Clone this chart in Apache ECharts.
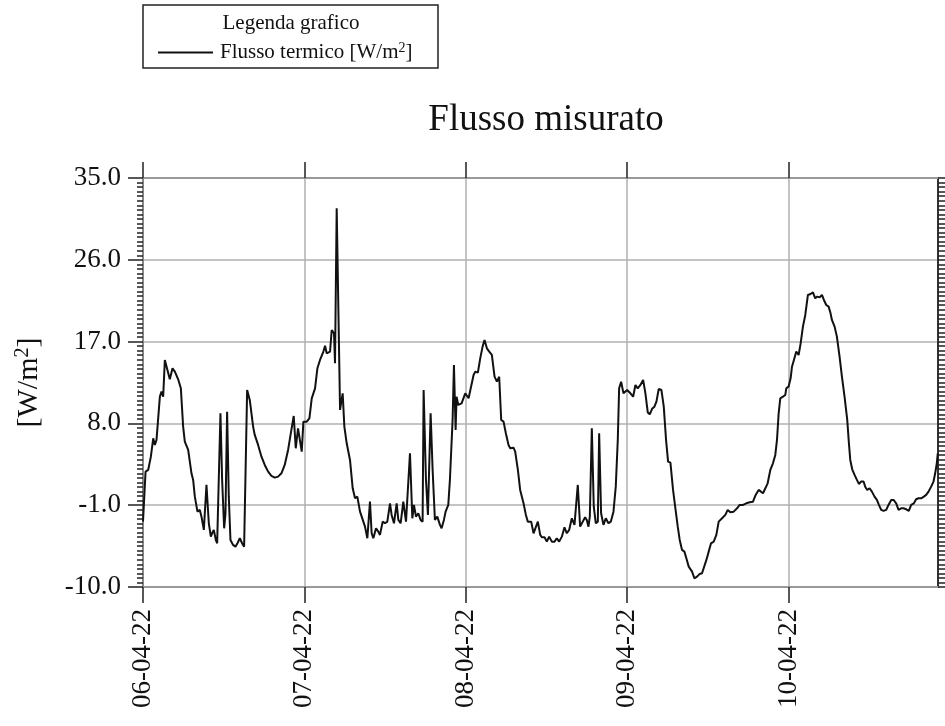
<!DOCTYPE html>
<html><head><meta charset="utf-8">
<script src="https://cdn.jsdelivr.net/npm/echarts@6/dist/echarts.min.js"></script>
<style>html,body{margin:0;padding:0;background:#fff}#c{width:945px;height:726px}</style>
</head><body><div id="c"></div>
<script>
const dayLabels = ['06-04-22','07-04-22','08-04-22','09-04-22','10-04-22'];
const dayTicks = [0,24,48,72,96];
const yTicks = [-10,-1,8,17,26,35];
const hours = [
0,0.38,0.77,1.17,1.52,1.76,2.01,2.51,2.75,3.00,3.25,3.50,3.99,4.39,4.74,5.23,5.63,5.97,6.22,6.72,7.21,7.46,7.71,8.10,8.45,8.70,9.05,9.44,9.79,10.09,10.28,10.53,10.83,11.03,11.52,11.77,12.07,12.27,12.51,12.76,13.01,13.40,13.75,14.05,14.40,14.74,15.04,15.49,15.88,16.38,16.62,17.12,17.62,18.11,18.61,19.10,19.60,20.09,20.59,21.08,21.58,22.07,22.42,22.72,23.06,
23.61,23.86,24.35,24.75,25.10,25.59,25.94,26.33,26.83,27.08,27.32,27.82,28.07,28.41,28.56,28.81,29.31,29.70,29.95,30.30,30.79,31.19,31.54,31.88,32.28,32.53,32.77,33.02,33.37,33.76,34.01,34.26,34.66,35.00,35.25,35.65,35.99,36.34,36.74,36.98,37.33,37.73,37.98,38.32,38.72,39.12,39.31,39.71,40.06,40.30,40.60,40.95,41.29,41.59,41.74,42.09,42.38,42.78,43.08,43.42,43.77,44.17,44.41,44.76,45.01,45.41,45.65,46.05,46.25,46.50,46.64,46.89,47.39,
47.93,48.43,48.67,49.17,49.42,49.81,50.16,50.51,50.80,51.15,51.50,51.89,52.29,52.64,52.98,53.28,53.63,53.97,54.37,54.62,55.11,55.36,55.76,56.10,56.60,56.95,57.24,57.74,58.09,58.33,58.73,59.08,59.33,59.72,60.07,60.41,60.81,61.21,61.55,61.90,62.30,62.69,63.04,63.39,63.78,64.18,64.38,64.67,65.02,65.27,65.76,66.01,66.26,66.46,66.76,67.05,67.35,67.65,67.85,68.14,68.49,68.84,69.23,69.58,69.98,70.32,70.62,70.82,71.12,71.46,
72.01,72.50,72.90,73.25,73.59,73.99,74.39,74.73,75.08,75.38,75.72,76.07,76.37,76.71,77.11,77.46,77.80,78.10,78.45,78.84,79.19,79.54,79.83,80.18,80.53,80.82,81.17,81.42,81.67,82.01,82.41,82.81,83.15,83.40,83.80,84.14,84.49,84.89,85.28,85.63,86.13,86.62,86.97,87.36,87.86,88.36,88.75,89.25,89.74,90.24,90.73,91.13,91.57,91.92,92.22,92.57,92.91,93.31,93.70,94.05,94.30,94.55,94.79,95.19,95.54,
95.68,96.03,96.33,96.53,96.82,97.17,97.52,97.82,98.16,98.51,98.90,99.30,99.65,99.99,100.29,100.64,100.99,101.28,101.63,101.98,102.27,102.47,102.87,103.21,103.61,103.96,104.35,104.75,105.00,105.20,105.49,105.84,106.19,106.48,106.83,107.18,107.42,107.72,108.07,108.42,108.81,109.16,109.46,109.80,110.15,110.55,110.89,111.29,111.64,112.03,112.38,112.77,113.12,113.52,113.91,114.26,114.66,115.00,115.35,115.75,116.14,116.49,116.84,117.23,117.58,117.83,118.07,118.22
];
const flux = [
-2.81,2.69,2.88,4.34,6.36,5.63,6.18,10.94,11.49,10.94,14.98,14.80,12.85,14.06,13.70,12.85,11.86,7.65,6.00,5.08,2.51,1.78,-0.06,-1.71,-1.52,-2.26,-3.72,1.23,-2.99,-4.46,-4.09,-3.72,-4.82,-5.19,9.11,1.78,-3.54,-1.89,9.29,-0.06,-4.82,-5.37,-5.56,-5.19,-4.64,-5.19,-5.56,11.68,10.58,7.65,6.73,5.63,4.34,3.43,2.69,2.22,2.03,2.14,2.51,3.43,5.08,7.28,8.82,5.26,7.46,
4.89,8.19,8.19,8.56,10.76,11.86,14.06,14.98,15.90,16.55,15.71,15.90,18.28,17.91,14.61,31.66,9.48,11.31,7.65,5.81,3.98,0.86,-0.24,-0.06,-1.71,-2.26,-2.07,-3.36,-4.64,-0.61,-4.09,-4.64,-3.54,-3.91,-4.27,-2.81,-2.99,-2.81,-0.79,-2.07,-2.99,-0.79,-2.62,-2.99,-0.61,-2.81,-2.99,4.71,-2.44,-0.97,-2.26,-1.89,-2.62,-2.81,11.68,1.78,-2.07,9.11,2.88,-2.62,-2.26,-3.17,-3.54,-2.62,-1.71,-0.97,1.78,8.38,14.43,7.28,10.94,10.03,10.21,
11.31,10.76,10.58,13.33,13.70,13.59,15.16,16.45,17.18,16.26,15.90,15.53,13.14,12.59,13.14,8.38,8.19,6.91,5.63,5.26,5.33,4.89,2.88,0.68,-0.79,-2.07,-2.81,-2.81,-4.09,-4.27,-2.81,-4.27,-4.53,-4.53,-5.01,-4.46,-5.01,-5.01,-4.64,-5.01,-4.46,-3.43,-4.09,-3.72,-2.44,-3.17,-2.99,1.23,-3.36,-3.54,-2.33,-2.62,-3.36,-2.26,7.46,-1.16,-2.99,-2.81,6.91,-1.89,-3.17,-2.44,-2.99,-2.81,-1.71,1.04,6.18,11.86,12.59,11.31,
11.68,11.31,10.94,12.23,11.86,12.23,12.78,11.31,9.20,9.00,9.60,9.84,10.39,11.79,11.68,9.84,6.18,3.79,3.68,0.68,-1.34,-3.36,-4.82,-5.92,-6.11,-6.84,-7.76,-7.94,-8.31,-9.04,-8.86,-8.56,-8.49,-8.42,-7.02,-6.11,-5.19,-5.01,-4.27,-2.81,-2.44,-2.07,-1.52,-1.78,-1.71,-1.34,-0.97,-0.97,-0.79,-0.68,-0.61,0.13,0.68,0.49,0.31,0.86,1.41,2.88,3.61,4.53,6.18,9.11,10.76,10.94,11.13,
11.86,12.05,12.96,14.24,14.98,15.90,15.53,16.81,18.65,19.93,22.13,22.24,22.42,21.76,21.95,21.87,22.13,21.58,21.03,20.85,20.11,19.38,18.65,17.55,15.35,13.14,10.94,8.38,5.81,3.98,2.95,2.33,1.78,1.34,1.60,1.60,1.04,0.68,0.86,0.49,-0.06,-0.42,-0.97,-1.52,-1.63,-1.52,-0.97,-0.42,-0.42,-0.79,-1.52,-1.34,-1.34,-1.45,-1.63,-0.97,-0.79,-0.35,-0.24,-0.24,-0.06,0.13,0.49,1.04,1.60,2.51,3.61,4.71
];
const FONT = '"Liberation Serif", "Times New Roman", serif';
const chart = echarts.init(document.getElementById('c'));
const data = hours.map((h, i) => [h, flux[i]]);
const tickStyle = {color: '#222', width: 1.5};
const option = {
  animation: false,
  backgroundColor: '#fff',
  title: {
    text: 'Flusso misurato', left: 541, top: 97, textAlign: 'center',
    textStyle: {fontFamily: FONT, fontSize: 37, fontWeight: 'normal', color: '#111'}
  },
  legend: {
    data: [{name: 'Flusso termico', icon: 'rect'}], left: 153, top: 36, itemWidth: 55, itemHeight: 2, itemGap: 0,
    formatter: () => '{a|Flusso termico [W/m}{s|2}{a|]}',
    textStyle: {
      padding: [0, 0, 0, 2],
      rich: {
        a: {fontFamily: FONT, fontSize: 21, color: '#111'},
        s: {fontFamily: FONT, fontSize: 14, color: '#111', verticalAlign: 'top', padding: [0, 0, 9, 0]}
      }
    }
  },
  grid: {left: 143, right: 7, top: 178, bottom: 139, containLabel: false},
  xAxis: [
    {
      type: 'value', position: 'bottom', min: 0, max: 118.25, interval: 24,
      axisLine: {onZero: false, lineStyle: {color: '#999', width: 2}},
      axisTick: {customValues: dayTicks, length: 16, lineStyle: tickStyle},
      axisLabel: {
        customValues: dayTicks, rotate: 90, margin: 22,
        formatter: v => dayLabels[dayTicks.indexOf(v)] || '',
        fontFamily: FONT, fontSize: 27, color: '#111'
      },
      splitLine: {show: true, lineStyle: {color: '#b0b0b0', width: 1.5}}
    },
    {
      type: 'value', position: 'top', min: 0, max: 118.25, interval: 24,
      axisLine: {onZero: false, lineStyle: {color: '#999', width: 2}},
      axisTick: {customValues: dayTicks, length: 16, lineStyle: tickStyle},
      axisLabel: {show: false}, splitLine: {show: false}
    }
  ],
  yAxis: [
    {
      type: 'value', position: 'left', min: -10, max: 35, interval: 0.5,
      axisLine: {show: true, onZero: false, lineStyle: {color: '#888', width: 2}},
      axisTick: {customValues: yTicks, length: 15, lineStyle: tickStyle},
      axisLabel: {
        customValues: yTicks, margin: 22, formatter: v => v.toFixed(1),
        fontFamily: FONT, fontSize: 27, color: '#111'
      },
      splitLine: {show: true, lineStyle: {color: '#b0b0b0', width: 1.5}},
      name: '{a|[W/m}{s|2}{a|]}', nameLocation: 'middle', nameRotate: 90, nameGap: 98,
      nameTextStyle: {
        rich: {
          a: {fontFamily: FONT, fontSize: 30, color: '#111'},
          s: {fontFamily: FONT, fontSize: 20, color: '#111', verticalAlign: 'top', padding: [0, 0, 12, 0]}
        }
      }
    },
    {
      type: 'value', position: 'left', min: -10, max: 35, interval: 0.5,
      axisLine: {show: false, onZero: false}, axisTick: {show: true, length: 6, lineStyle: tickStyle},
      axisLabel: {show: false}, splitLine: {show: false}
    },
    {
      type: 'value', position: 'right', min: -10, max: 35, interval: 0.5,
      axisLine: {show: true, onZero: false, lineStyle: {color: '#333', width: 2}},
      axisTick: {show: true, length: 7, lineStyle: tickStyle},
      axisLabel: {show: false}, splitLine: {show: false}
    }
  ],
  series: [{
    name: 'Flusso termico', type: 'line', data: data, symbol: 'none',
    xAxisIndex: 0, yAxisIndex: 0,
    lineStyle: {color: '#111', width: 2}, itemStyle: {color: '#111'}
  }],
  graphic: [
    {type: 'rect', shape: {x: 143, y: 5, width: 295, height: 63},
     style: {fill: 'none', stroke: '#222', lineWidth: 1.5}},
    {type: 'text', x: 291, y: 23,
     style: {text: 'Legenda grafico', font: '21px "Liberation Serif"', fill: '#111', align: 'center', verticalAlign: 'middle'}}
  ]
};
chart.setOption(option);
</script>
</body></html>
